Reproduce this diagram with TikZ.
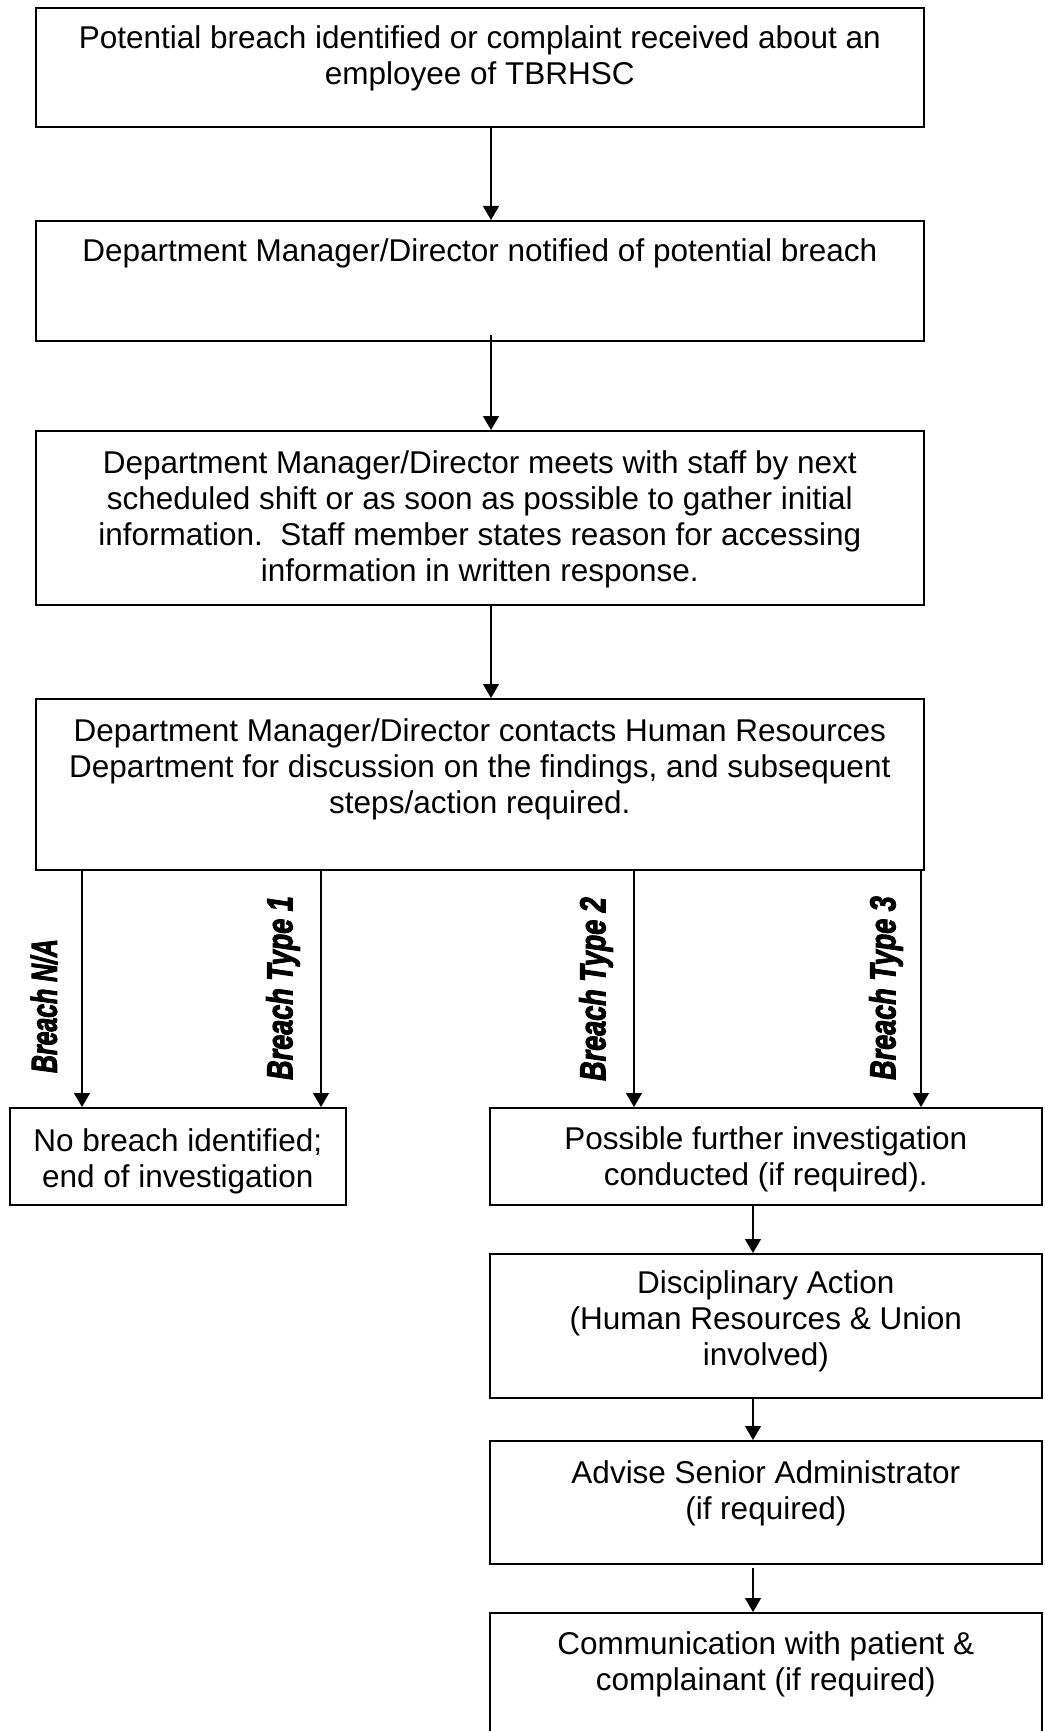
\documentclass[tikz,border=0pt]{standalone}
\usepackage{fontspec}
\setmainfont{Liberation Sans}
\newfontfamily\lblfont[FakeBold=3.2]{Liberation Sans Bold Italic}
\usetikzlibrary{arrows.meta}
\tikzset{
  box/.style={draw=black, line width=1.6pt, inner sep=0pt, anchor=north west},
  txt/.style={align=center, inner sep=0pt, anchor=north, font=\fontsize{31.5}{36}\selectfont},
  arr/.style={draw=black, line width=1.3pt, -{Triangle[width=16pt,length=14pt]}},
  lbl/.style={rotate=90, inner sep=0pt, font=\fontsize{36}{36}\lblfont}
}
\begin{document}
\begin{tikzpicture}[x=1pt,y=-1pt]
\clip (0,0) rectangle (1044,1731);
\fill[white] (0,0) rectangle (1044,1731);
% boxes
\node[box, minimum width=888pt, minimum height=119pt] (b1) at (35,7) {};
\node[box, minimum width=888pt, minimum height=120pt] (b2) at (35,220) {};
\node[box, minimum width=888pt, minimum height=174pt] (b3) at (35,430) {};
\node[box, minimum width=888pt, minimum height=171pt] (b4) at (35,698) {};
\node[box, minimum width=336pt, minimum height=97pt] (nb) at (9,1107) {};
\node[box, minimum width=552pt, minimum height=97pt] (pf) at (489,1107) {};
\node[box, minimum width=552pt, minimum height=144pt] (da) at (489,1253) {};
\node[box, minimum width=552pt, minimum height=123pt] (as) at (489,1440) {};
\node[box, minimum width=552pt, minimum height=140pt] (cm) at (489,1612) {};
% texts
\node[txt] (t1) at ([yshift=-18pt]b1.north) {Potential breach identified or complaint received about an\\employee of TBRHSC};
\node[txt] (t2) at ([yshift=-18pt]b2.north) {Department Manager/Director notified of potential breach};
\node[txt] (t3) at ([yshift=-20pt]b3.north) {Department Manager/Director meets with staff by next\\scheduled shift or as soon as possible to gather initial\\information.\ \ Staff member states reason for accessing\\information in written response.};
\node[txt] (t4) at ([yshift=-20pt]b4.north) {Department Manager/Director contacts Human Resources\\Department for discussion on the findings, and subsequent\\steps/action required.};
\node[txt] (t5) at ([yshift=-21pt]nb.north) {No breach identified;\\end of investigation};
\node[txt] (t6) at ([yshift=-19pt]pf.north) {Possible further investigation\\conducted (if required).};
\node[txt] (t7) at ([yshift=-17pt]da.north) {Disciplinary Action\\(Human Resources \& Union\\involved)};
\node[txt] (t8) at ([yshift=-20pt]as.north) {Advise Senior Administrator\\(if required)};
\node[txt] (t9) at ([yshift=-19pt]cm.north) {Communication with patient \&\\complainant (if required)};
% main arrows
\coordinate (mx) at (491,0);
\draw[arr] (b1.south -| mx) -- (b2.north -| mx);
\draw[arr] ([yshift=7pt]b2.south -| mx) -- (b3.north -| mx);
\draw[arr] (b3.south -| mx) -- (b4.north -| mx);
% branches
\coordinate (x1) at (82,0);
\coordinate (x2) at (321,0);
\coordinate (x3) at (634,0);
\coordinate (x4) at (921,0);
\draw[arr] (b4.south -| x1) -- (nb.north -| x1);
\draw[arr] (b4.south -| x2) -- (nb.north -| x2);
\draw[arr] (b4.south -| x3) -- (pf.north -| x3);
\draw[arr] (b4.south -| x4) -- (pf.north -| x4);
\node[lbl] (l1) at (44,1006) {\scalebox{0.69}[1]{Breach N/A}};
\node[lbl] (l2) at (283,988) {\scalebox{0.75}[1]{Breach Type 1}};
\node[lbl] (l3) at (596,989) {\scalebox{0.75}[1]{Breach Type 2}};
\node[lbl] (l4) at (886,988) {\scalebox{0.75}[1]{Breach Type 3}};
% lower arrows
\coordinate (lx) at (753,0);
\draw[arr] (pf.south -| lx) -- (da.north -| lx);
\draw[arr] (da.south -| lx) -- (as.north -| lx);
\draw[arr] ([yshift=-3pt]as.south -| lx) -- (cm.north -| lx);
\end{tikzpicture}
\end{document}
